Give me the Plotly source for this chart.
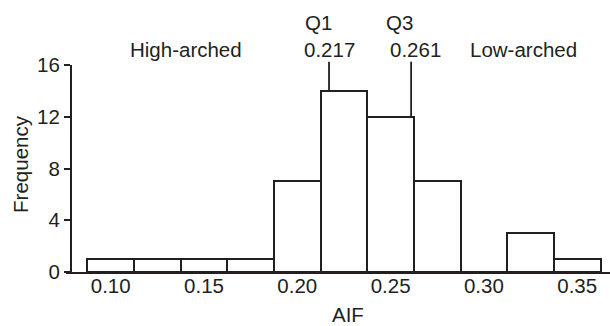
import plotly.graph_objects as go

# Data
bin_centers = [0.100, 0.125, 0.150, 0.175, 0.200, 0.225, 0.250, 0.275, 0.300, 0.325, 0.350]
counts = [1, 1, 1, 1, 7, 14, 12, 7, 0, 3, 1]
bin_width = 0.025
q_labels = ["Q1", "Q3"]
q_values = [0.217, 0.261]
x_ticks = [0.10, 0.15, 0.20, 0.25, 0.30, 0.35]
x_ticktext = ["0.10", "0.15", "0.20", "0.25", "0.30", "0.35"]
y_ticks = [0, 4, 8, 12, 16]

INK = "#231f20"
FONT = "Liberation Sans, Arial, sans-serif"
FS = 20.5
X_RANGE = [0.07605, 0.36758]
Y_MAX = 16

fig = go.Figure()
fig.add_trace(go.Bar(
    x=bin_centers, y=counts, width=bin_width,
    marker=dict(color="white", line=dict(color=INK, width=2)),
    showlegend=False,
))

def bar_height_at(v):
    for c, n in zip(bin_centers, counts):
        if abs(v - c) <= bin_width / 2:
            return n
    return 0

shifts_label = [-11, -12]
shifts_val = [0, 4]
for lab, v, sl, sv in zip(q_labels, q_values, shifts_label, shifts_val):
    fig.add_shape(type="line", xref="x", yref="paper",
                  x0=v, x1=v, y0=bar_height_at(v) / Y_MAX, y1=1.016,
                  line=dict(color=INK, width=1.8))
    fig.add_annotation(xref="x", yref="paper", x=v, y=1.203, text=lab,
                       showarrow=False, xshift=sl, xanchor="center", yanchor="middle",
                       font=dict(family=FONT, size=FS, color=INK))
    fig.add_annotation(xref="x", yref="paper", x=v, y=1.0726, text=f"{v:.3f}",
                       showarrow=False, xshift=sv, xanchor="center", yanchor="middle",
                       font=dict(family=FONT, size=FS, color=INK))

fig.add_annotation(xref="paper", yref="paper", x=0.2206, y=1.0726, text="High-arched",
                   showarrow=False, xanchor="center", yanchor="middle",
                   font=dict(family=FONT, size=FS, color=INK))
fig.add_annotation(xref="paper", yref="paper", x=0.8406, y=1.0726, text="Low-arched",
                   showarrow=False, xanchor="center", yanchor="middle",
                   font=dict(family=FONT, size=FS, color=INK))
# axis titles
fig.add_annotation(xref="paper", yref="paper", x=0.5175, y=-0.2627, text="AIF",
                   showarrow=False, xanchor="center", yanchor="bottom", yshift=-2,
                   font=dict(family=FONT, size=FS, color=INK))
fig.add_annotation(xref="paper", yref="paper", x=-0.085, y=0.521, text="Frequency",
                   showarrow=False, textangle=-90, xanchor="center", yanchor="middle",
                   font=dict(family=FONT, size=FS, color=INK))

fig.update_layout(
    width=610, height=326,
    margin=dict(l=66, r=0, t=65, b=54),
    paper_bgcolor="white", plot_bgcolor="white",
    bargap=0,
    font=dict(family=FONT, size=FS, color=INK),
    xaxis=dict(range=X_RANGE, domain=[0, 1], tickvals=x_ticks, ticktext=x_ticktext,
               showline=True, linecolor=INK, linewidth=2, ticks="",
               ticklabelstandoff=-6,
               showgrid=False, zeroline=False,
               tickfont=dict(family=FONT, size=FS, color=INK)),
    yaxis=dict(range=[0, Y_MAX], tickvals=y_ticks, anchor="free", position=5 / 544,
               showline=True, linecolor=INK, linewidth=2, ticks="outside",
               ticklen=6, tickwidth=2, tickcolor=INK,
               showgrid=False, zeroline=False,
               tickfont=dict(family=FONT, size=FS, color=INK)),
)

fig.write_html("out.html")
